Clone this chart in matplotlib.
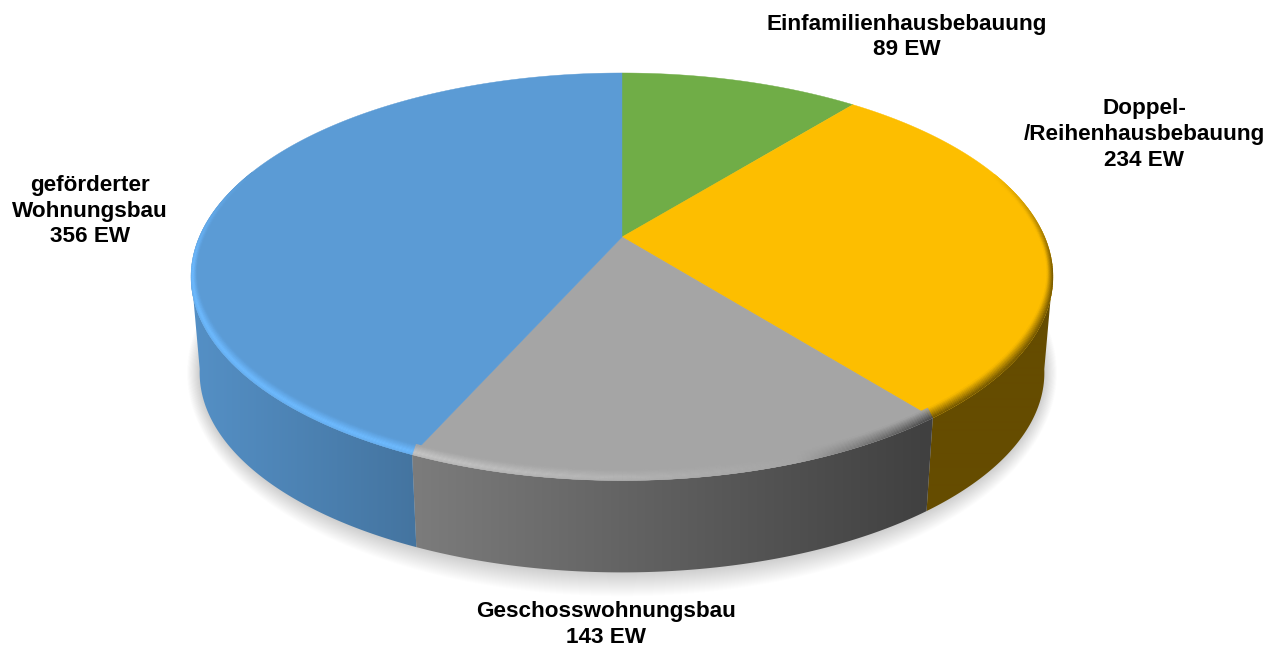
import numpy as np
import matplotlib
matplotlib.use("Agg")
from matplotlib import pyplot as plt
from matplotlib.collections import PolyCollection
from matplotlib.colors import to_rgb
from matplotlib.patches import Polygon

plt.rcParams["font.family"] = ["Liberation Sans", "DejaVu Sans"]

# chart data, clockwise from 12 o'clock
categories = ["Einfamilienhausbebauung", "Doppel-\n/Reihenhausbebauung", "Geschosswohnungsbau", "geförderter\nWohnungsbau"]
values = [89, 234, 143, 356]
colors = ["#70ad47", "#fdbe00", "#a5a5a5", "#5b9bd5"]
label_x = [906.5, 1144, 606, 90]
label_y = [37, 134.5, 624.5, 211]

# projection of the tilted disc, in picture pixels
CX, CY = 622, 237
A, B, K = 196.0, 422.7, 0.195
ELL_Y = 276.5


def top_rim(theta, r=1.0):
    u, v = r * np.sin(theta), r * np.cos(theta)
    w = 1 + K * v
    return CX + B * u / w, CY - A * v / w


def bottom_rim(theta):
    x, y = top_rim(theta)
    return CX + 0.98 * (x - CX), ELL_Y + 0.98 * (y - ELL_Y) + 96


def side_shade(x):
    return np.interp(x, [190, 415, 925, 1053], [0.93, 0.75, 0.39, 0.40])


def rim_strength(x):
    return np.interp(x, [400, 800, 930, 1053], [1.0, 0.0, -1.0, -1.0])


def bevel_point(theta, t):
    # t runs from the rim (0) to the inner end of the band (1)
    x, y = top_rim(theta, 1 - 0.014 * t)
    lift = np.clip(-np.cos(theta) / 0.4, 0, 1)
    return x, y - 7 * t * lift


fig = plt.figure(figsize=(12.77, 6.47), dpi=100)
ax = fig.add_axes([0, 0, 1, 1])
ax.set_xlim(0, 1277)
ax.set_ylim(647, 0)
ax.axis("off")

# soft shadow under the disc
circle = np.linspace(0, 2 * np.pi, 361)
bx, by = bottom_rim(circle)
for k in np.arange(24, 0, -1.0):
    sx = CX + (bx - CX) * (1 + k / 800)
    sy = 372 + (by - 372) * (1 + k / 201)
    ax.fill(sx, sy, color="k", alpha=0.008, lw=0, zorder=1)

edges = np.concatenate([[0], np.cumsum(values)]) / np.sum(values) * 2 * np.pi

# side wall: horizontal gradient clipped to each slice
grad_x = np.arange(180, 1060)
for i, col in enumerate(colors):
    if i == 0:
        continue
    base = np.array(to_rgb(col))
    th = np.linspace(edges[i], edges[i + 1], 600)
    th = th[np.cos(th) < -K + 0.02]
    x0, y0 = top_rim(th)
    x1, y1 = bottom_rim(th)
    poly = Polygon(np.c_[np.r_[x0, x1[::-1]], np.r_[y0, y1[::-1]]], closed=True, transform=ax.transData,
                   fc="none", ec="none")
    ax.add_patch(poly)
    shade = np.full(grad_x.shape, 0.40) if i == 1 else side_shade(grad_x)
    img = (base[None, None, :] * shade[None, :, None])
    im = ax.imshow(img, extent=[180, 1060, 600, 100], aspect="auto", interpolation="bilinear", zorder=2)
    im.set_clip_path(poly)
ax.set_xlim(0, 1277)
ax.set_ylim(647, 0)

# top faces
for i, col in enumerate(colors):
    th = np.linspace(edges[i], edges[i + 1], 200)
    x, y = top_rim(th)
    ax.fill(np.r_[CX, x], np.r_[CY, y], color=col, lw=0.3, zorder=3)

# bevel along the front edge
bevel_polys, bevel_cols = [], []
levels = np.linspace(0, 1, 11)
for i, col in enumerate(colors):
    base = np.array(to_rgb(col))
    th = np.arange(edges[i], edges[i + 1], np.radians(0.5))
    th = np.append(th, edges[i + 1])
    for j in range(len(th) - 1):
        weight = np.clip((0.35 - np.cos(th[j])) / 0.5, 0, 1)
        if weight <= 0:
            continue
        for t0, t1 in zip(levels[:-1], levels[1:]):
            xa, ya = bevel_point(th[j], t0)
            xb, yb = bevel_point(th[j + 1], t0)
            xc, yc = bevel_point(th[j + 1], t1)
            xd, yd = bevel_point(th[j], t1)
            bevel_polys.append([(xa, ya), (xb, yb), (xc, yc), (xd, yd)])
            tm = 0.5 * (t0 + t1)
            s = rim_strength(xa) * weight
            if s >= 0:
                p = np.interp(tm, [0, 0.3, 1], [0.6, 1, 0])
                c = base * (1 + 0.22 * s * p)
            else:
                c = base * (1 + 0.6 * s * (1 - tm))
            bevel_cols.append(np.clip(c, 0, 1))
ax.add_collection(PolyCollection(bevel_polys, facecolors=bevel_cols, edgecolors=bevel_cols, linewidths=0.2, zorder=4))

# labels
for name, val, lx, ly in zip(categories, values, label_x, label_y):
    ax.text(lx, ly, f"{name}\n{val} EW", ha="center", va="center", fontsize=16.2,
            fontweight="bold", color="k", linespacing=1.286, zorder=5)

fig.savefig("out.png", dpi=100)
